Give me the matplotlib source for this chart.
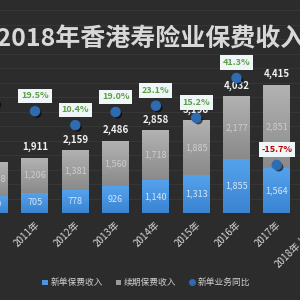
import numpy as np
import matplotlib
matplotlib.use('Agg')
import matplotlib.pyplot as plt
import matplotlib.patheffects as pe
from matplotlib.patches import Patch
from matplotlib.lines import Line2D
from matplotlib.colors import LinearSegmentedColormap

plt.rcParams['font.family'] = ['Noto Sans CJK SC', 'DejaVu Sans']

# data (HK$ 亿)
years = ['2010年', '2011年', '2012年', '2013年', '2014年', '2015年', '2016年', '2017年', '2018年上半年']
new_prem = [590, 705, 778, 926, 1140, 1313, 1855, 1564]
renew_prem = [1168, 1206, 1381, 1560, 1718, 1885, 2177, 2851]
total_prem = [1758, 1911, 2159, 2486, 2858, 3198, 4032, 4415]
new_yoy = [25.0, 19.5, 10.4, 19.0, 23.1, 15.2, 41.3, -15.7]

bg = '#2c2c2c'
blue = '#4a94e0'
grey = '#a0a0a0'
dot = '#2e6bb0'

fig = plt.figure(figsize=(3, 3), dpi=100, facecolor=bg)
ax = fig.add_axes([0, 0.29, 1, 0.71])
ax.set_facecolor('none')

x = np.arange(len(new_prem))
w = 0.67
b1 = ax.bar(x, new_prem, width=w, color=blue, zorder=2)
b2 = ax.bar(x, renew_prem, bottom=new_prem, width=w, color=grey, zorder=2)


# gradient fill inside each bar
def grad(bars, c_top, c_bot):
    cmap = LinearSegmentedColormap.from_list('g', [c_bot, c_top])
    for r in bars:
        x0, y0 = r.get_x(), r.get_y()
        im = ax.imshow(np.linspace(0, 1, 64).reshape(-1, 1), cmap=cmap,
                       extent=[x0, x0 + r.get_width(), y0, y0 + r.get_height()],
                       origin='lower', aspect='auto', zorder=2.5)
        im.set_clip_path(r)


grad(b1, '#55a2ec', '#3a84d2')
grad(b2, '#b2b2b2', '#8a8a8a')

xlim = (0.1315, 7.576)
ax.set_xlim(*xlim)
ax.set_ylim(0, 7347)
ax.set_yticks(np.arange(0, 7500, 500))
ax.grid(axis='y', color='#383838', lw=0.6)
ax.set_axisbelow(True)
ax.tick_params(length=0, labelleft=False, labelbottom=False)
for s in ax.spines.values():
    s.set_visible(False)

for i in x:
    ax.annotate(f'{total_prem[i]:,}', (i, total_prem[i]), xytext=(0, 4),
                textcoords='offset points', ha='center', va='bottom',
                fontsize=7, fontweight='bold', color='#f0f0f0', zorder=4)
    ax.text(i, new_prem[i] + renew_prem[i] / 2, f'{renew_prem[i]:,}', ha='center', va='center',
            fontsize=6.5, color='#cdcdcd', zorder=4)
    ax.text(i, new_prem[i] / 2, f'{new_prem[i]:,}', ha='center', va='center',
            fontsize=6.5, color='#d6e6f7', zorder=4)

for i, lab in enumerate(years):
    ax.annotate(lab, (i, 0), xytext=(2, -7), textcoords='offset points',
                rotation=45, rotation_mode='anchor', ha='right', va='center',
                fontsize=7, color='#d8d8d8', annotation_clip=False)

# yoy on second axis
ax2 = fig.add_axes([0, 0.29, 1, 0.71])
ax2.set_facecolor('none')
ax2.set_xlim(*xlim)
ax2.set_ylim(-47.2, 92.4)
ax2.axis('off')
ax2.plot(x, new_yoy, 'o', ls='none', color=dot, ms=6.5, zorder=5,
         path_effects=[pe.withSimplePatchShadow(offset=(1.5, -1.5), shadow_rgbFace='black', alpha=0.6)])
for i in x:
    v = new_yoy[i]
    ax2.annotate(f'{v:.1f}%', (i, v), xytext=(0, 11), textcoords='offset points',
                 ha='center', va='center', fontsize=6.5, fontweight='bold',
                 color='#c00000' if v < 0 else '#5f9e46', zorder=6,
                 bbox=dict(boxstyle='square,pad=0.3', fc='#eef6f8', ec='none'))

fig.text(1.017, 0.87, '2010-2018年香港寿险业保费收入', ha='right', va='center',
         fontsize=18, fontweight='bold', color='#d8d8d8')

handles = [Patch(fc=blue), Patch(fc='#9a9a9a'),
           Line2D([], [], marker='o', ls='none', color=dot, ms=4)]
fig.legend(handles, ['新单保费收入', '续期保费收入', '新单业务同比'], loc='center',
           bbox_to_anchor=(0.487, 0.057), ncol=3, frameon=False, fontsize=6.3,
           labelcolor='#d0d0d0', handlelength=0.6, handleheight=0.6,
           handletextpad=0.3, columnspacing=1.5)

fig.savefig('out.png', dpi=100, facecolor=bg)
